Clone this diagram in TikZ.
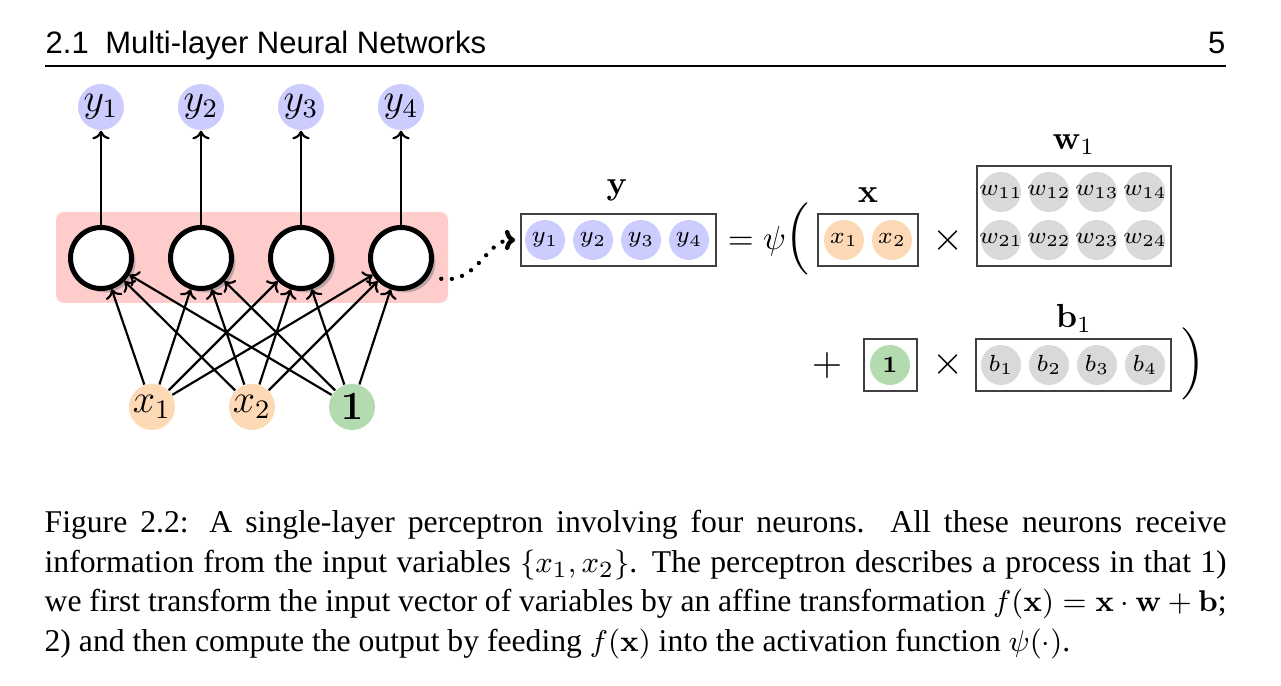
\documentclass[tikz,border=0pt]{standalone}
\usepackage[no-math]{fontspec}
\setmainfont{Liberation Serif}
\newfontfamily\headfont{Liberation Sans}
\usepackage{amsmath,amssymb}
\usepackage{xcolor}
\usetikzlibrary{shadows,calc,arrows.meta}
\usetikzlibrary{positioning}

\definecolor{unitblue}{RGB}{204,204,255}
\definecolor{unitorange}{RGB}{253,217,181}
\definecolor{unitgreen}{RGB}{180,219,176}
\definecolor{unitgray}{RGB}{217,217,217}
\definecolor{layerpink}{RGB}{255,204,204}

\begin{document}
\begin{tikzpicture}[x=0.3pt,y=0.3pt,yscale=-1,xscale=1,
  neuron/.style={circle,draw=black,line width=1.5pt,fill=white,minimum size=18.3pt,inner sep=0pt,
    drop shadow={shadow xshift=1.2pt,shadow yshift=-1.2pt,fill=black!50}},
  bigunit/.style={circle,minimum size=13.8pt,inner sep=0pt,font=\large},
  cell/.style={circle,minimum size=12pt,inner sep=0pt,font=\scriptsize},
  wcell/.style={cell,fill=unitgray,inner sep=-1.6pt},
  vecbox/.style={draw=black!75,line width=0.6pt,inner sep=0pt},
  link/.style={-{To[length=2.6pt,width=5.2pt]},line width=0.65pt},
  capline/.style={anchor=base west,inner sep=0pt,font=\fontsize{9.5}{12}\selectfont}]
  \useasboundingbox (0,0) rectangle (1281,686);

  % Header
  \node [anchor=base west,inner sep=0pt,font=\headfont\fontsize{9.3}{11}\selectfont] (head) at (45,54) {2.1\hspace{5pt}Multi-layer Neural Networks};
  \node [anchor=base east,inner sep=0pt,font=\headfont\fontsize{9.3}{11}\selectfont] (page) at (1226,54) {5};
  \draw [line width=0.5pt] (45,66) -- (1226,66);

  % Layer
  \draw [draw=none,fill=layerpink,rounded corners=2.4pt] (56,212) rectangle (448,303);

  % Neurons
  \node [neuron] (n1) at (101,258) {};
  \node [neuron] (n2) at (201,258) {};
  \node [neuron] (n3) at (301,258) {};
  \node [neuron] (n4) at (401,258) {};

  % Outputs
  \node [bigunit,fill=unitblue] (y1) at (101,107) {$y_1$};
  \node [bigunit,fill=unitblue] (y2) at (201,107) {$y_2$};
  \node [bigunit,fill=unitblue] (y3) at (301,107) {$y_3$};
  \node [bigunit,fill=unitblue] (y4) at (401,107) {$y_4$};

  % Inputs
  \node [bigunit,fill=unitorange] (x1) at (152,407) {$x_1$};
  \node [bigunit,fill=unitorange] (x2) at (252,407) {$x_2$};
  \node [bigunit,fill=unitgreen] (one) at (352,407) {$\mathbf{1}$};

  % Connections
  \draw [link] (n1) -- (y1);
  \draw [link] (n2) -- (y2);
  \draw [link] (n3) -- (y3);
  \draw [link] (n4) -- (y4);
  \draw [link] (x1) -- (n1);
  \draw [link] (x1) -- (n2);
  \draw [link] (x1) -- (n3);
  \draw [link] (x1) -- (n4);
  \draw [link] (x2) -- (n1);
  \draw [link] (x2) -- (n2);
  \draw [link] (x2) -- (n3);
  \draw [link] (x2) -- (n4);
  \draw [link] (one) -- (n1);
  \draw [link] (one) -- (n2);
  \draw [link] (one) -- (n3);
  \draw [link] (one) -- (n4);

  % Vector y
  \node [vecbox,minimum width=58.5pt,minimum height=15.6pt] (ybox) at (618.5,240) {};
  \node (ylab) at (617,190) {$\mathbf{y}$};
  \node [cell,fill=unitblue] (ya) at (545,240) {$y_1$};
  \node [cell,fill=unitblue] (yb) at (593,240) {$y_2$};
  \node [cell,fill=unitblue] (yc) at (641,240) {$y_3$};
  \node [cell,fill=unitblue] (yd) at (689,240) {$y_4$};

  \draw [-{To[length=3pt,width=6pt]},line width=1.3pt,line cap=round,dash pattern=on 0pt off 3.2pt,shorten <=4pt,shorten >=1.5pt]
    (n4.-35) .. controls (478,284) and (486,240) .. (ybox.west);

  % Text Node
  \node (eqpsi) at (757,241) {$=\psi$};
  \node [font=\large] (lparen) at (797,239) {$\Big($};

  % Vector x
  \node [vecbox,minimum width=30pt,minimum height=15.6pt] (xbox) at (868,240) {};
  \node (xlab) at (868,195) {$\mathbf{x}$};
  \node [cell,fill=unitorange] (xa) at (844,240) {$x_1$};
  \node [cell,fill=unitorange] (xb) at (892,240) {$x_2$};

  % Text Node
  \node [font=\large] (times1) at (948,241) {$\times$};

  % Matrix w
  \node [vecbox,minimum width=58.2pt,minimum height=30pt] (wbox) at (1074,216) {};
  \node (wlab) at (1074,145) {$\mathbf{w}_1$};
  \node [wcell] (w11) at (1001,192) {$w_{11}$};
  \node [wcell] (w12) at (1049,192) {$w_{12}$};
  \node [wcell] (w13) at (1097,192) {$w_{13}$};
  \node [wcell] (w14) at (1145,192) {$w_{14}$};
  \node [wcell] (w21) at (1001,240) {$w_{21}$};
  \node [wcell] (w22) at (1049,240) {$w_{22}$};
  \node [wcell] (w23) at (1097,240) {$w_{23}$};
  \node [wcell] (w24) at (1145,240) {$w_{24}$};

  % Text Node
  \node [font=\large] (plus) at (827,366) {$+$};

  % Bias input
  \node [vecbox,minimum width=15.9pt,minimum height=15.6pt] (onebox) at (890.5,365) {};
  \node [cell,fill=unitgreen] (onea) at (890,365) {$\mathbf{1}$};

  % Text Node
  \node [font=\large] (times2) at (948,365) {$\times$};

  % Vector b
  \node [vecbox,minimum width=58.5pt,minimum height=15.6pt] (bbox) at (1073.5,365) {};
  \node (blab) at (1074,318) {$\mathbf{b}_1$};
  \node [cell,fill=unitgray] (ba) at (1001,365) {$b_1$};
  \node [cell,fill=unitgray] (bb) at (1049,365) {$b_2$};
  \node [cell,fill=unitgray] (bc) at (1097,365) {$b_3$};
  \node [cell,fill=unitgray] (bd) at (1145,365) {$b_4$};

  % Text Node
  \node [font=\large] (rparen) at (1193,364) {$\Big)$};

  % Caption
  \node [capline] (cap1) at (44,533) {\makebox[354.6pt][s]{Figure 2.2: A single-layer perceptron involving four neurons.  All these neurons receive}};
  \node [capline] (cap2) at (44,572.5) {\makebox[354.6pt][s]{information from the input variables $\{x_1,x_2\}$. The perceptron describes a process in that 1)}};
  \node [capline] (cap3) at (44,612) {\makebox[354.6pt][s]{we first transform the input vector of variables by an affine transformation $f(\mathbf{x})=\mathbf{x}\cdot\mathbf{w}+\mathbf{b}$;}};
  \node [capline] (cap4) at (44,652) {2) and then compute the output by feeding $f(\mathbf{x})$ into the activation function $\psi(\cdot)$.};
\end{tikzpicture}
\end{document}
